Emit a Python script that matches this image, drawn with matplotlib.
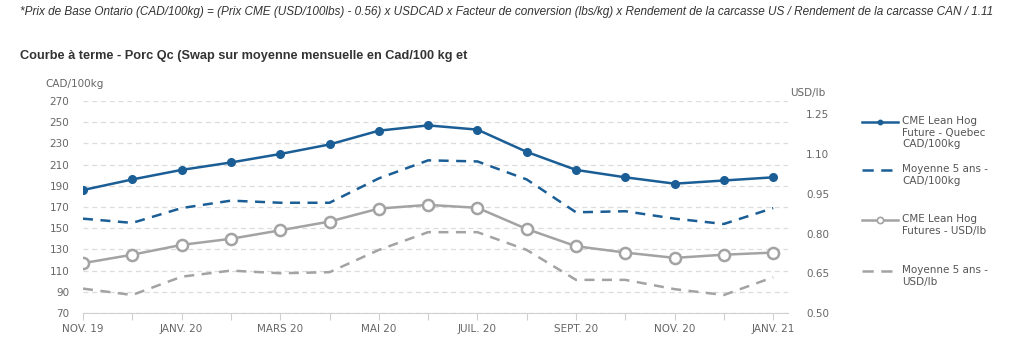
import numpy as np
import matplotlib.pyplot as plt
from matplotlib.lines import Line2D

# ============================================================
# Data
# ============================================================

months = ["NOV. 19", "DÉC. 19", "JANV. 20", "FÉVR. 20", "MARS 20", "AVR. 20",
          "MAI 20", "JUIN 20", "JUIL. 20", "AOÛT 20", "SEPT. 20", "OCT. 20",
          "NOV. 20", "DÉC. 20", "JANV. 21"]

cme_quebec_cad = [186, 196, 205, 212, 220, 229, 242, 247, 243, 222, 205, 198, 192, 195, 198]
avg5_cad = [159, 155, 169, 176, 174, 174, 197, 214, 213, 196, 165, 166, 159, 154, 169]

cme_usd = [0.688, 0.720, 0.757, 0.780, 0.812, 0.845, 0.894, 0.908, 0.897,
           0.817, 0.752, 0.728, 0.708, 0.720, 0.728]
avg5_usd = [0.592, 0.568, 0.637, 0.660, 0.650, 0.654, 0.738, 0.805, 0.805,
            0.738, 0.625, 0.625, 0.590, 0.568, 0.635]

left_ticks = list(range(70, 271, 20))
right_ticks = [0.50, 0.65, 0.80, 0.95, 1.10, 1.25]

footnote = ("*Prix de Base Ontario (CAD/100kg) = (Prix CME (USD/100lbs) - 0.56) x USDCAD x "
            "Facteur de conversion (lbs/kg) x Rendement de la carcasse US / "
            "Rendement de la carcasse CAN / 1.11")
title = "Courbe à terme - Porc Qc (Swap sur moyenne mensuelle en Cad/100 kg et"

legend_labels = ["CME Lean Hog\nFuture - Quebec\nCAD/100kg",
                 "Moyenne 5 ans -\nCAD/100kg",
                 "CME Lean Hog\nFutures - USD/lb",
                 "Moyenne 5 ans -\nUSD/lb"]

# ============================================================
# Styles
# ============================================================

BLUE = "#1b5e96"
GRAY = "#a3a3a3"
TICK = "#666666"
GRID = "#dcdcdc"
W, H = 1024, 356

plt.rcParams["font.family"] = ["DejaVu Sans"]

fig = plt.figure(figsize=(W / 100, H / 100), dpi=100)
ax = fig.add_axes([83 / W, 1 - 313 / H, 705 / W, 212 / H])
ax2 = ax.twinx()

x = np.arange(len(months))

styles = [
    dict(color=BLUE, lw=1.8, marker="o", ms=5.5, markerfacecolor=BLUE, markeredgecolor=BLUE),
    dict(color=BLUE, lw=1.8, ls=(0, (4, 3))),
    dict(color=GRAY, lw=1.8, marker="o", ms=8, markerfacecolor="white",
         markeredgecolor=GRAY, markeredgewidth=1.8),
    dict(color=GRAY, lw=1.8, ls=(0, (4, 3))),
]

ax.plot(x, cme_quebec_cad, zorder=5, **styles[0])
ax.plot(x, avg5_cad, zorder=4, **styles[1])
ax2.plot(x, cme_usd, zorder=5, **styles[2])
ax2.plot(x, avg5_usd, zorder=4, **styles[3])

ax.set_xlim(0, len(months) - 1 + 0.3)
ax.set_ylim(70, 270)
ax2.set_ylim(0.5, 1.3)

ax.set_yticks(left_ticks)
ax.set_yticklabels([str(v) for v in left_ticks])
ax2.set_yticks(right_ticks)
ax2.set_yticklabels([f"{v:.2f}" for v in right_ticks])

ax.set_xticks(x)
ax.set_xticklabels([m if i % 2 == 0 else "" for i, m in enumerate(months)])

ax.grid(axis="y", color=GRID, ls=(0, (4, 3)), lw=0.9)
ax.set_axisbelow(True)

for a in (ax, ax2):
    for s in ("top", "left", "right"):
        a.spines[s].set_visible(False)
    a.spines["bottom"].set_color("#d0d0d0")
ax2.spines["bottom"].set_visible(False)

ax.tick_params(axis="x", length=5, color="#d0d0d0", labelsize=7.5, labelcolor=TICK, pad=3)
ax.tick_params(axis="y", length=0, labelsize=7.5, labelcolor=TICK, pad=10)
ax2.tick_params(axis="y", length=0, labelsize=7.5, labelcolor=TICK, pad=13)

fig.text(45 / W, 1 - 84 / H, "CAD/100kg", fontsize=7.5, color=TICK, va="center")
fig.text(790 / W, 1 - 93 / H, "USD/lb", fontsize=7.5, color=TICK, va="center")

fig.text(20 / W, 1 - 12 / H, footnote, fontsize=8.5, style="italic",
         color="#333333", family="Liberation Sans", va="center")
fig.text(20 / W, 1 - 56 / H, title, fontsize=9.2, weight="bold",
         color="#333333", family="Liberation Sans", va="center")

# Legend: handle aligned with the first text line of each entry
legend_y = [122, 170, 220, 271]
for y, label, st in zip(legend_y, legend_labels, styles):
    st = dict(st)
    if "marker" in st:
        st["ms"] = 3 if st["markerfacecolor"] != "white" else 4.5
        st["markeredgewidth"] = 1.2
        st["markevery"] = [1]
    else:
        st["ls"] = (0, (4.5, 3))
    fig.add_artist(Line2D([862 / W, 880 / W, 898 / W], [1 - y / H] * 3,
                          transform=fig.transFigure, **st))
    fig.text(902 / W, 1 - (y - 6) / H, label, fontsize=7.5, color="#555555",
             va="top", ha="left", linespacing=1.2)

fig.savefig("out.png", dpi=100, facecolor="white")
